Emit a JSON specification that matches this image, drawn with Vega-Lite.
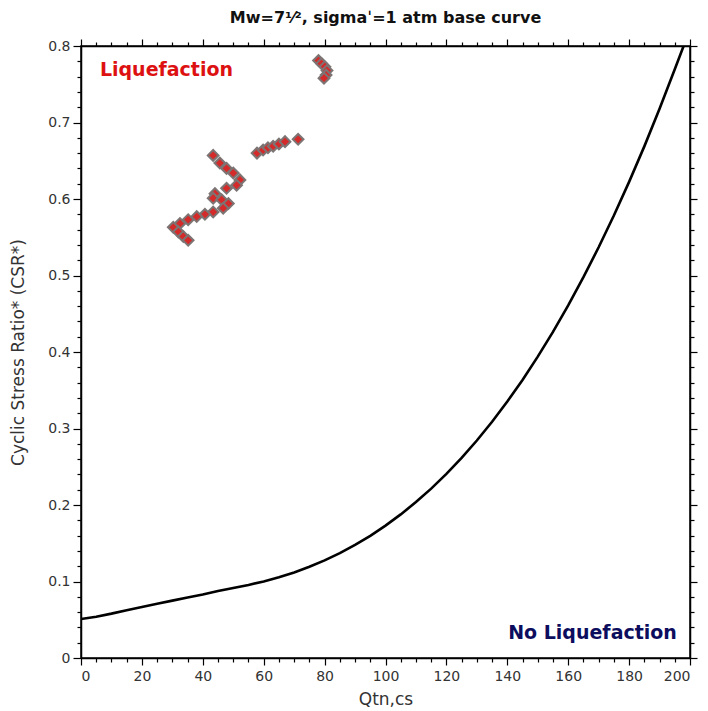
{
  "$schema": "https://vega.github.io/schema/vega-lite/v6.json",
  "width": 609,
  "height": 612,
  "autosize": "none",
  "padding": {"left": 81, "top": 46, "right": 18, "bottom": 53},
  "background": "white",
  "title": {"text": "Mw=7¹⁄², sigmaˈ=1 atm base curve", "font": "DejaVu Sans", "fontSize": 16, "fontWeight": "bold", "color": "#111111", "offset": 12, "anchor": "middle"},
  "config": {
    "view": {"stroke": "black", "strokeWidth": 1.5},
    "axis": {"grid": false, "domainColor": "black", "domainWidth": 1.5, "tickColor": "black", "tickWidth": 1.2, "labelFont": "DejaVu Sans", "labelFontSize": 14, "labelColor": "#333333", "titleFont": "DejaVu Sans", "titleFontSize": 17, "titleFontWeight": "normal", "titleColor": "#333333"}
  },
  "datasets": {
    "curve": [
      {"Qtn": 0, "CSR": 0.051}, {"Qtn": 5, "CSR": 0.054}, {"Qtn": 10, "CSR": 0.058}, {"Qtn": 15, "CSR": 0.0625},
      {"Qtn": 20, "CSR": 0.0667}, {"Qtn": 25, "CSR": 0.0708}, {"Qtn": 30, "CSR": 0.075}, {"Qtn": 35, "CSR": 0.079},
      {"Qtn": 40, "CSR": 0.083}, {"Qtn": 45, "CSR": 0.0875}, {"Qtn": 50, "CSR": 0.0916}, {"Qtn": 55, "CSR": 0.0955},
      {"Qtn": 60, "CSR": 0.1001}, {"Qtn": 65, "CSR": 0.1055}, {"Qtn": 70, "CSR": 0.1119}, {"Qtn": 75, "CSR": 0.1192},
      {"Qtn": 80, "CSR": 0.1276}, {"Qtn": 85, "CSR": 0.1371}, {"Qtn": 90, "CSR": 0.1478}, {"Qtn": 95, "CSR": 0.1597},
      {"Qtn": 100, "CSR": 0.173}, {"Qtn": 105, "CSR": 0.1877}, {"Qtn": 110, "CSR": 0.2038}, {"Qtn": 115, "CSR": 0.2214},
      {"Qtn": 120, "CSR": 0.2407}, {"Qtn": 125, "CSR": 0.2616}, {"Qtn": 130, "CSR": 0.2843}, {"Qtn": 135, "CSR": 0.3088},
      {"Qtn": 140, "CSR": 0.3352}, {"Qtn": 145, "CSR": 0.3635}, {"Qtn": 150, "CSR": 0.3939}, {"Qtn": 155, "CSR": 0.4263},
      {"Qtn": 160, "CSR": 0.4609}, {"Qtn": 165, "CSR": 0.4978}, {"Qtn": 170, "CSR": 0.5369}, {"Qtn": 175, "CSR": 0.5784},
      {"Qtn": 180, "CSR": 0.6224}, {"Qtn": 185, "CSR": 0.6688}, {"Qtn": 190, "CSR": 0.7179}, {"Qtn": 195, "CSR": 0.7696},
      {"Qtn": 197.9, "CSR": 0.8}
    ],
    "points": [
      {"Qtn": 43.4, "CSR": 0.657}, {"Qtn": 45.6, "CSR": 0.647}, {"Qtn": 47.8, "CSR": 0.64}, {"Qtn": 50.0, "CSR": 0.634},
      {"Qtn": 52.2, "CSR": 0.625}, {"Qtn": 51.1, "CSR": 0.618}, {"Qtn": 47.8, "CSR": 0.614}, {"Qtn": 44.0, "CSR": 0.607},
      {"Qtn": 43.4, "CSR": 0.601}, {"Qtn": 46.2, "CSR": 0.599}, {"Qtn": 48.4, "CSR": 0.594}, {"Qtn": 46.7, "CSR": 0.588},
      {"Qtn": 43.4, "CSR": 0.583}, {"Qtn": 40.7, "CSR": 0.58}, {"Qtn": 38.0, "CSR": 0.577}, {"Qtn": 35.2, "CSR": 0.573},
      {"Qtn": 32.5, "CSR": 0.568}, {"Qtn": 30.3, "CSR": 0.563}, {"Qtn": 32.0, "CSR": 0.557}, {"Qtn": 33.6, "CSR": 0.551},
      {"Qtn": 35.2, "CSR": 0.546},
      {"Qtn": 57.8, "CSR": 0.66}, {"Qtn": 59.8, "CSR": 0.664}, {"Qtn": 61.4, "CSR": 0.667}, {"Qtn": 63.1, "CSR": 0.669},
      {"Qtn": 65.0, "CSR": 0.672}, {"Qtn": 67.0, "CSR": 0.675}, {"Qtn": 71.3, "CSR": 0.678},
      {"Qtn": 78.0, "CSR": 0.781}, {"Qtn": 79.0, "CSR": 0.777}, {"Qtn": 80.1, "CSR": 0.773}, {"Qtn": 80.8, "CSR": 0.768},
      {"Qtn": 80.5, "CSR": 0.762}, {"Qtn": 79.8, "CSR": 0.758}
    ]
  },
  "layer": [
    {
      "data": {"name": "curve"},
      "mark": {"type": "line", "color": "black", "strokeWidth": 2.6, "clip": true},
      "encoding": {
        "x": {"field": "Qtn", "type": "quantitative", "scale": {"domain": [0, 200], "nice": false},
          "axis": {"orient": "bottom", "values": [0, 20, 40, 60, 80, 100, 120, 140, 160, 180, 200], "tickSize": 7, "labelPadding": 4, "title": "Qtn,cs", "titlePadding": 8}},
        "y": {"field": "CSR", "type": "quantitative", "scale": {"domain": [0, 0.8], "nice": false},
          "axis": {"orient": "left", "values": [0, 0.1, 0.2, 0.3, 0.4, 0.5, 0.6, 0.7, 0.8], "format": ".1~f", "tickSize": 8, "labelPadding": 3, "title": "Cyclic Stress Ratio* (CSR*)", "titlePadding": 20}}
      }
    },
    {
      "data": {"name": "points"},
      "mark": {"type": "point", "shape": "diamond", "filled": true, "size": 115, "fill": "#d42a2a", "stroke": "#7d7474", "strokeWidth": 2, "opacity": 1},
      "encoding": {
        "x": {"field": "Qtn", "type": "quantitative",
          "axis": {"orient": "bottom", "values": [5, 10, 15, 25, 30, 35, 45, 50, 55, 65, 70, 75, 85, 90, 95, 105, 110, 115, 125, 130, 135, 145, 150, 155, 165, 170, 175, 185, 190, 195], "tickSize": 4, "labels": false, "domain": false, "title": null}},
        "y": {"field": "CSR", "type": "quantitative",
          "axis": {"orient": "left", "values": [0.02, 0.04, 0.06, 0.08, 0.12, 0.14, 0.16, 0.18, 0.22, 0.24, 0.26, 0.28, 0.32, 0.34, 0.36, 0.38, 0.42, 0.44, 0.46, 0.48, 0.52, 0.54, 0.56, 0.58, 0.62, 0.64, 0.66, 0.68, 0.72, 0.74, 0.76, 0.78], "tickSize": 4, "labels": false, "domain": false, "title": null}}
      }
    },
    {
      "data": {"values": [{"label": "Liquefaction"}]},
      "mark": {"type": "text", "color": "#dd1111", "font": "DejaVu Sans", "fontSize": 19, "fontWeight": "bold", "align": "left", "baseline": "middle"},
      "encoding": {
        "text": {"field": "label"},
        "x": {"datum": 6.2, "type": "quantitative",
          "axis": {"orient": "top", "values": [0, 20, 40, 60, 80, 100, 120, 140, 160, 180, 200], "tickSize": 7, "labels": false, "title": null}},
        "y": {"datum": 0.769, "type": "quantitative",
          "axis": {"orient": "right", "values": [0, 0.1, 0.2, 0.3, 0.4, 0.5, 0.6, 0.7, 0.8], "tickSize": 7, "labels": false, "title": null}}
      }
    },
    {
      "data": {"values": [{"label": "No Liquefaction"}]},
      "mark": {"type": "text", "color": "#0d0d5e", "font": "DejaVu Sans", "fontSize": 19, "fontWeight": "bold", "align": "right", "baseline": "middle"},
      "encoding": {
        "text": {"field": "label"},
        "x": {"datum": 195.7, "type": "quantitative",
          "axis": {"orient": "top", "values": [5, 10, 15, 25, 30, 35, 45, 50, 55, 65, 70, 75, 85, 90, 95, 105, 110, 115, 125, 130, 135, 145, 150, 155, 165, 170, 175, 185, 190, 195], "tickSize": 4, "labels": false, "domain": false, "title": null}},
        "y": {"datum": 0.033, "type": "quantitative",
          "axis": {"orient": "right", "values": [0.02, 0.04, 0.06, 0.08, 0.12, 0.14, 0.16, 0.18, 0.22, 0.24, 0.26, 0.28, 0.32, 0.34, 0.36, 0.38, 0.42, 0.44, 0.46, 0.48, 0.52, 0.54, 0.56, 0.58, 0.62, 0.64, 0.66, 0.68, 0.72, 0.74, 0.76, 0.78], "tickSize": 4, "labels": false, "domain": false, "title": null}}
      }
    }
  ],
  "resolve": {"axis": {"x": "independent", "y": "independent"}}
}
